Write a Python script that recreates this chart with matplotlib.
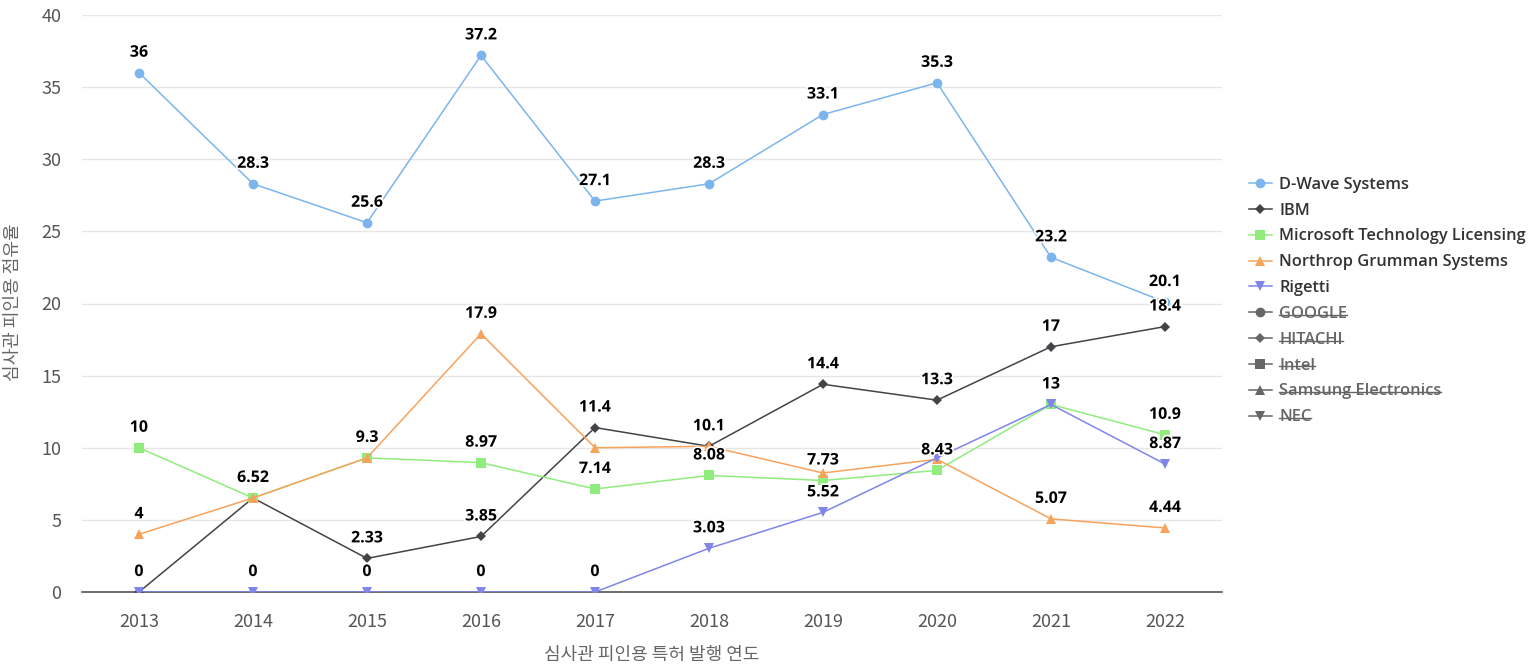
import numpy as np
import matplotlib.pyplot as plt
import matplotlib.patheffects as pe
from matplotlib.lines import Line2D

years = ["2013", "2014", "2015", "2016", "2017", "2018", "2019", "2020", "2021", "2022"]

dwave = [36, 28.3, 25.6, 37.2, 27.1, 28.3, 33.1, 35.3, 23.2, 20.1]
ibm = [0, 6.52, 2.33, 3.85, 11.4, 10.1, 14.4, 13.3, 17, 18.4]
microsoft = [10, 6.52, 9.3, 8.97, 7.14, 8.08, 7.73, 8.43, 13, 10.9]
northrop = [4, 6.52, 9.3, 17.9, 10.0, 10.1, 8.25, 9.2, 5.07, 4.44]
rigetti = [0, 0, 0, 0, 0, 3.03, 5.52, 9.3, 13, 8.87]

# which data labels survive the overlap check in the original
show_dwave = [1, 1, 1, 1, 1, 1, 1, 1, 1, 1]
show_ibm = [0, 0, 1, 1, 1, 1, 1, 1, 1, 1]
show_ms = [1, 1, 0, 1, 1, 1, 1, 1, 0, 1]
show_north = [1, 0, 1, 1, 0, 0, 0, 0, 1, 1]
show_rig = [1, 1, 1, 1, 1, 1, 1, 0, 1, 1]

series = [
    ("D-Wave Systems", dwave, "#7cb5ec", "o", show_dwave),
    ("IBM", ibm, "#434348", "D", show_ibm),
    ("Microsoft Technology Licensing", microsoft, "#90ed7d", "s", show_ms),
    ("Northrop Grumman Systems", northrop, "#f7a35c", "^", show_north),
    ("Rigetti", rigetti, "#8085e9", "v", show_rig),
]
hidden = [("GOOGLE", "o"), ("HITACHI", "D"), ("Intel", "s"),
          ("Samsung Electronics", "^"), ("NEC", "v")]

W, H = 1530, 671
fig = plt.figure(figsize=(W / 100, H / 100), dpi=100)
ax = fig.add_axes([82 / W, 1 - 592 / H, (1222 - 82) / W, (592 - 15) / H])

x = np.arange(len(years))
msize = {"o": 7, "D": 5, "s": 7, "^": 7.5, "v": 7.5}
for name, vals, col, mk, show in series:
    ax.plot(x, vals, color=col, lw=1.1, marker=mk, markersize=msize[mk],
            markeredgewidth=0, label=name, zorder=3)
    for xi, v, s in zip(x, vals, show):
        if s:
            ax.annotate(f"{v:g}", (xi, v), xytext=(0, 20), textcoords="offset pixels",
                        ha="center", va="center", fontsize=11.5, fontweight="bold",
                        family="Open Sans", color="black", zorder=5,
                        path_effects=[pe.withStroke(linewidth=2.5, foreground="white")])

ax.set_xlim(-0.5, len(years) - 0.5)
ax.set_ylim(0, 40)
ax.set_yticks(np.arange(0, 41, 5))
ax.set_xticks(x)
ax.set_xticklabels(years)
ax.grid(axis="y", color="#e6e6e6", lw=1)
ax.set_axisbelow(True)
for s in ["top", "right", "left"]:
    ax.spines[s].set_visible(False)
ax.spines["bottom"].set_color("#555555")
ax.spines["bottom"].set_linewidth(1.2)
ax.tick_params(axis="y", length=0, pad=15, labelsize=13, labelcolor="#555555")
ax.tick_params(axis="x", length=0, pad=15, labelsize=13, labelcolor="#555555")
for t in ax.get_xticklabels() + ax.get_yticklabels():
    t.set_family("Noto Sans CJK KR")

fig.text(13 / W, 1 - 302 / H, "심사관 피인용 점유율", rotation=90, ha="center", va="center",
         fontsize=13, color="#666666", family="Noto Sans CJK KR")
fig.text(652 / W, 1 - 655 / H, "심사관 피인용 특허 발행 연도", ha="center", va="center",
         fontsize=13, color="#666666", family="Noto Sans CJK KR")

handles = [Line2D([], [], color=c, marker=m, markersize=msize[m], markeredgewidth=0, lw=1.1)
           for _, _, c, m, _ in series]
labels = [s[0] for s in series]
for name, m in hidden:
    handles.append(Line2D([], [], color="#666666", marker=m, markersize=msize[m],
                          markeredgewidth=0, lw=1.1))
    labels.append(name)

leg = fig.legend(handles, labels, loc="upper left", bbox_to_anchor=(1234 / W, 1 - 162 / H),
                 frameon=False, handlelength=1.4, handletextpad=0.45, labelspacing=0.6,
                 prop={"family": "Open Sans", "size": 11.8, "weight": "semibold"})
for i, t in enumerate(leg.get_texts()):
    t.set_color("#333333" if i < len(series) else "#666666")

# strike through the hidden series names
fig.canvas.draw()
inv = fig.transFigure.inverted()
for t in leg.get_texts()[len(series):]:
    bb = t.get_window_extent()
    (x0, y0), (x1, y1) = inv.transform([(bb.x0, bb.y0), (bb.x1, bb.y1)])
    ym = y0 + (y1 - y0) * 0.45
    fig.add_artist(Line2D([x0, x1], [ym, ym], color="#666666", lw=1, transform=fig.transFigure))

fig.savefig("out.png", dpi=100)
